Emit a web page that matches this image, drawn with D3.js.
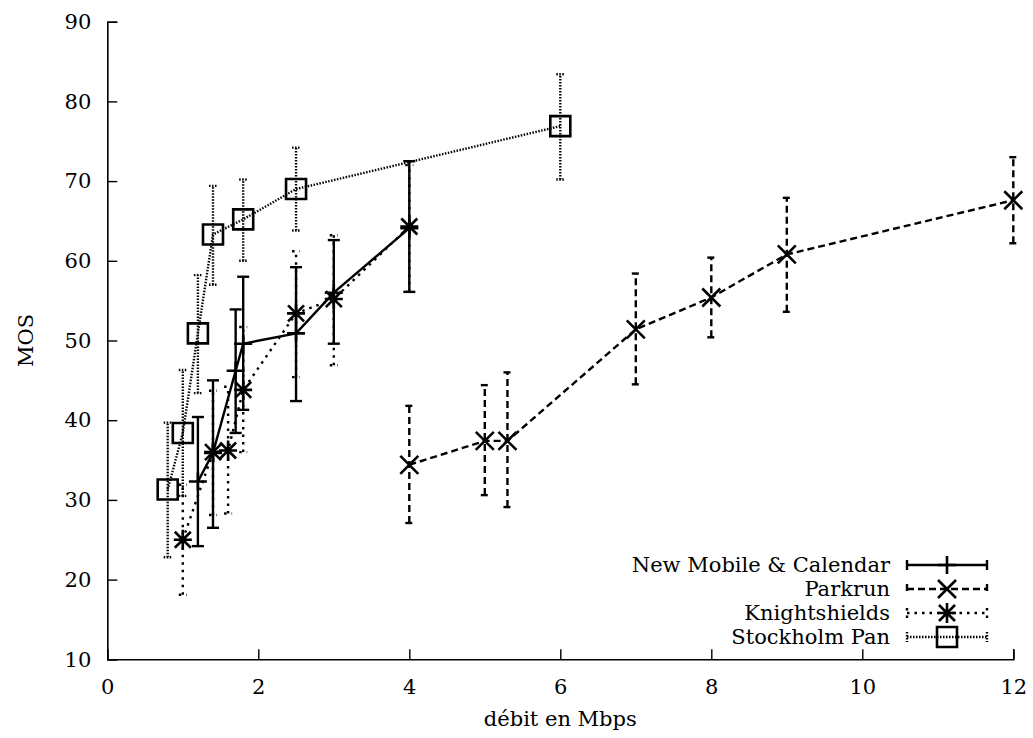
<!DOCTYPE html>
<html>
<head>
<meta charset="utf-8">
<script src="https://cdn.jsdelivr.net/npm/d3@7/dist/d3.min.js"></script>
<style>
  body { margin: 0; background: #fff; }
  svg text { font-family: "DejaVu Serif", "Liberation Serif", serif; fill: #000; }
</style>
</head>
<body>
<div id="graph"></div>
<script>
"use strict";

var FONT = "DejaVu Serif";
var FS = 21;

// series names, in legend order
var seriesNames = ["New Mobile & Calendar", "Parkrun", "Knightshields", "Stockholm Pan"];

// New Mobile & Calendar
var nmcX  = [1.2, 1.4, 1.7, 1.8, 2.5, 3, 4];
var nmcY  = [32.3, 35.9, 46.2, 49.6, 50.9, 56.0, 64.1];
var nmcLo = [24.2, 26.5, 38.4, 41.3, 42.4, 49.6, 56.1];
var nmcHi = [40.4, 45.0, 53.9, 58.0, 59.2, 62.6, 72.5];

// Parkrun
var pkX  = [4, 5, 5.3, 7, 8, 9, 12];
var pkY  = [34.4, 37.4, 37.4, 51.4, 55.4, 60.8, 67.6];
var pkLo = [27.1, 30.6, 29.1, 44.5, 50.4, 53.6, 62.2];
var pkHi = [41.8, 44.4, 46.0, 58.4, 60.4, 67.9, 73.0];

// Knightshields
var knX  = [1.0, 1.4, 1.6, 1.8, 2.5, 3, 4];
var knY  = [25.0, 36.0, 36.2, 43.8, 53.4, 55.2, 64.3];
var knLo = [18.1, 28.1, 28.3, 36.0, 45.4, 46.9, 56.1];
var knHi = [31.9, 43.7, 44.2, 51.7, 61.2, 63.2, 72.0];

// Stockholm Pan
var stX  = [0.8, 1.0, 1.2, 1.4, 1.8, 2.5, 6];
var stY  = [31.3, 38.4, 50.9, 63.3, 65.2, 69.0, 76.9];
var stLo = [22.8, 30.5, 43.4, 57.0, 60.0, 63.8, 70.2];
var stHi = [39.7, 46.3, 58.2, 69.4, 70.2, 74.2, 83.4];

var xTicks = [0, 2, 4, 6, 8, 10, 12];
var yTicks = [10, 20, 30, 40, 50, 60, 70, 80, 90];
var xLabel = "débit en Mbps";
var yLabel = "MOS";

var W = 1033, H = 738;

var x = d3.scaleLinear().domain([0, 12]).range([107.3, 1013.3]);
var y = d3.scaleLinear().domain([10, 90]).range([659.3, 21.7]);

var svg = d3.select("#graph")
    .append("svg")
    .attr("width", W)
    .attr("height", H)
    .attr("font-family", FONT);

// axes, ticks point inward like gnuplot
var xAxis = d3.axisBottom(x).tickValues(xTicks).tickSize(-10).tickPadding(20).tickFormat(d3.format("d"));
var yAxis = d3.axisLeft(y).tickValues(yTicks).tickSize(-10).tickPadding(16).tickFormat(d3.format("d"));

var gx = svg.append("g").attr("transform", "translate(0," + y(10) + ")").call(xAxis);
var gy = svg.append("g").attr("transform", "translate(" + x(0) + ",0)").call(yAxis);

[gx, gy].forEach(function (g) {
    g.attr("font-family", FONT);
    g.select(".domain").attr("stroke", "#000").attr("stroke-width", 1.6);
    g.selectAll(".tick line").attr("stroke", "#000").attr("stroke-width", 1.4);
    g.selectAll(".tick text").attr("font-size", FS).attr("font-family", FONT);
});

svg.append("text")
    .attr("x", (x(0) + x(12)) / 2)
    .attr("y", 726)
    .attr("text-anchor", "middle")
    .attr("font-size", FS)
    .text(xLabel);

svg.append("text")
    .attr("transform", "translate(33," + y(50) + ") rotate(-90)")
    .attr("text-anchor", "middle")
    .attr("font-size", FS)
    .text(yLabel);

// marker shapes, drawn around 0,0
function markerPath(kind) {
    var p = d3.path();
    if (kind === "plus") {
        p.moveTo(-9, 0); p.lineTo(9, 0);
        p.moveTo(0, -9); p.lineTo(0, 9);
    } else if (kind === "cross") {
        p.moveTo(-9, -9); p.lineTo(9, 9);
        p.moveTo(-9, 9); p.lineTo(9, -9);
    } else if (kind === "star") {
        p.moveTo(-9, 0); p.lineTo(9, 0);
        p.moveTo(0, -10); p.lineTo(0, 10);
        p.moveTo(-8, -8); p.lineTo(8, 8);
        p.moveTo(-8, 8); p.lineTo(8, -8);
    } else {
        p.rect(-10, -10, 20, 20);
    }
    return p.toString();
}

var series = [
    { name: seriesNames[0], xs: nmcX, ys: nmcY, lo: nmcLo, hi: nmcHi, dash: null, marker: "plus", cap: 12 },
    { name: seriesNames[1], xs: pkX, ys: pkY, lo: pkLo, hi: pkHi, dash: "7,4", marker: "cross", cap: 8 },
    { name: seriesNames[2], xs: knX, ys: knY, lo: knLo, hi: knHi, dash: "2.5,5", marker: "star", cap: 8 },
    { name: seriesNames[3], xs: stX, ys: stY, lo: stLo, hi: stHi, dash: "1.5,1.5", marker: "square", cap: 8 }
];

var line = d3.line().x(function (d) { return x(d[0]); }).y(function (d) { return y(d[1]); });

// draw back to front so the solid series is on top
series.slice().reverse().forEach(function (s) {
    var g = svg.append("g");
    var pts = s.xs.map(function (v, i) { return [v, s.ys[i], s.lo[i], s.hi[i]]; });

    g.append("path")
        .datum(pts)
        .attr("d", line)
        .attr("fill", "none")
        .attr("stroke", "#000")
        .attr("stroke-width", 2.4)
        .attr("stroke-dasharray", s.dash);

    var eb = g.selectAll(".eb").data(pts).enter().append("g");
    eb.append("line")
        .attr("x1", function (d) { return x(d[0]); })
        .attr("x2", function (d) { return x(d[0]); })
        .attr("y1", function (d) { return y(d[2]); })
        .attr("y2", function (d) { return y(d[3]); })
        .attr("stroke", "#000")
        .attr("stroke-width", 2.4)
        .attr("stroke-dasharray", s.dash);
    [2, 3].forEach(function (k) {
        eb.append("line")
            .attr("x1", function (d) { return x(d[0]) - s.cap / 2; })
            .attr("x2", function (d) { return x(d[0]) + s.cap / 2; })
            .attr("y1", function (d) { return y(d[k]); })
            .attr("y2", function (d) { return y(d[k]); })
            .attr("stroke", "#000")
            .attr("stroke-width", 2.4)
            .attr("stroke-dasharray", s.dash);
    });

    g.selectAll(".mk").data(pts).enter().append("path")
        .attr("transform", function (d) { return "translate(" + x(d[0]) + "," + y(d[1]) + ")"; })
        .attr("d", markerPath(s.marker))
        .attr("fill", "none")
        .attr("stroke", "#000")
        .attr("stroke-width", 2.6);
});

// legend in the lower right
var legend = svg.append("g").attr("transform", "translate(0,565)");
series.forEach(function (s, i) {
    var row = legend.append("g").attr("transform", "translate(0," + (i * 24) + ")");
    row.append("text")
        .attr("x", 890)
        .attr("y", 7)
        .attr("text-anchor", "end")
        .attr("font-size", FS)
        .text(s.name);
    row.append("line")
        .attr("x1", 907).attr("x2", 987)
        .attr("y1", 0).attr("y2", 0)
        .attr("stroke", "#000")
        .attr("stroke-width", 2.4)
        .attr("stroke-dasharray", s.dash);
    [907, 987].forEach(function (ex) {
        row.append("line")
            .attr("x1", ex).attr("x2", ex)
            .attr("y1", -5).attr("y2", 5)
            .attr("stroke", "#000")
            .attr("stroke-width", 2.4)
            .attr("stroke-dasharray", s.dash);
    });
    row.append("path")
        .attr("transform", "translate(947,0)")
        .attr("d", markerPath(s.marker))
        .attr("fill", "none")
        .attr("stroke", "#000")
        .attr("stroke-width", 2.6);
});
</script>
</body>
</html>
